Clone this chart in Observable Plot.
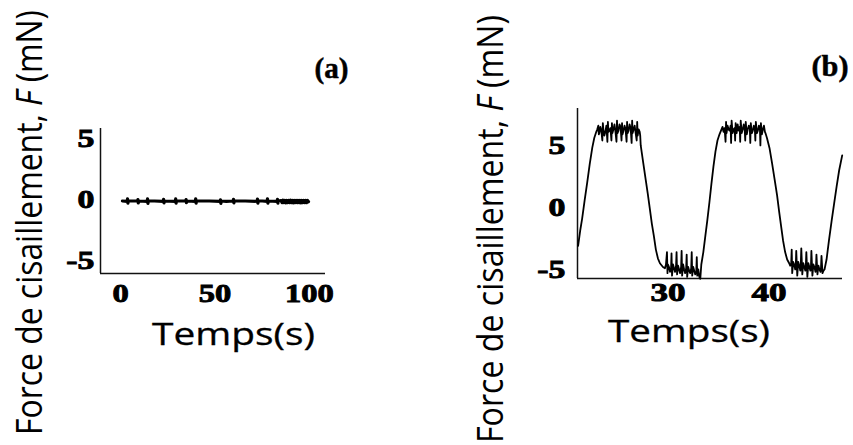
<!DOCTYPE html>
<html>
<head>
<meta charset="utf-8">
<script src="https://cdn.jsdelivr.net/npm/d3@7"></script>
<script src="https://cdn.jsdelivr.net/npm/@observablehq/plot@0.6"></script>
<style>
  html, body { margin: 0; padding: 0; background: #fff; }
  #wrap { position: relative; width: 853px; height: 445px; overflow: hidden; background: #fff; }
  #wrap > .panel { position: absolute; top: 0; }
  #overlay { position: absolute; left: 0; top: 0; pointer-events: none; }
</style>
</head>
<body>
<div id="wrap"></div>
<script>
// ---------- DATA ----------
// Panel (a): near-zero shear force over 100 s
const timeA = [1, 3.5, 3.7, 3.9, 4.1, 9, 9.2, 9.4, 9.6, 14.1, 14.3, 14.5, 14.7, 18, 22.6, 22.8, 23, 23.2,
  29, 29.2, 29.4, 29.6, 34.5, 34.7, 34.9, 35.1, 39.6, 39.8, 40, 40.2, 47, 52.7, 52.9, 53.1, 53.3, 56,
  59.6, 59.8, 60, 60.2, 66, 72.3, 72.5, 72.7, 72.9, 75, 77.6, 77.8, 78, 78.2, 82.9, 83.1, 83.3, 83.5,
  85, 85.5, 86, 86.5, 87, 87.5, 88, 88.5, 89, 89.5, 90, 90.5, 91, 91.5, 92, 92.5, 93, 93.5, 94, 94.5,
  95, 95.5, 96, 96.5, 97, 97.5, 98, 98.5, 99, 99.5];
const forceA = [-0.12, -0.15, 0.05, -0.3, -0.12, -0.12, 0.0, -0.28, -0.12, -0.15, 0.05, -0.32, -0.12, -0.12, -0.15, 0.02, -0.28, -0.12,
  -0.15, 0.05, -0.3, -0.12, -0.12, 0.0, -0.26, -0.12, -0.15, 0.06, -0.3, -0.12, -0.12, -0.15, -0.02, -0.32, -0.12, -0.15,
  -0.12, 0.02, -0.28, -0.12, -0.12, -0.15, 0.04, -0.3, -0.12, -0.12, -0.15, 0.06, -0.3, -0.12, -0.15, 0.02, -0.3, -0.12,
  -0.08, -0.26, -0.06, -0.25, -0.08, -0.27, -0.07, -0.25, -0.08, -0.26, -0.06, -0.26, -0.08, -0.27, -0.07, -0.25, -0.08, -0.26, -0.07, -0.26,
  -0.08, -0.27, -0.07, -0.25, -0.08, -0.26, -0.08, -0.26, -0.08, -0.18];

// Panel (b): oscillating shear force
const timeB = [21.1, 21.3, 21.5, 21.75, 22.0, 22.25, 22.5, 22.7, 22.9, 23.0,
  23.1, 23.15, 23.2, 23.3, 23.4, 23.5, 23.55, 23.6, 23.7, 23.8, 23.9, 24.0, 24.05, 24.1, 24.2, 24.3, 24.4, 24.45, 24.5, 24.6, 24.7, 24.8, 24.9, 24.95,
  25.0, 25.1, 25.2, 25.3, 25.4, 25.45, 25.5, 25.6, 25.7, 25.8, 25.9, 25.95, 26.0, 26.1, 26.2, 26.3, 26.4, 26.45, 26.5, 26.6, 26.7, 26.8, 26.9, 26.95, 27.0, 27.1, 27.2,
  27.25, 27.3, 27.55, 27.8, 28.0, 28.2, 28.4, 28.6, 28.8, 29.0, 29.2, 29.5, 29.7,
  29.8, 29.9, 29.95, 30.0, 30.1, 30.2, 30.3, 30.35, 30.4, 30.5, 30.6, 30.7, 30.8, 30.85, 30.9, 31.0, 31.1, 31.2, 31.3, 31.35, 31.4, 31.5, 31.6, 31.7, 31.8, 31.85, 31.9,
  32.0, 32.1, 32.2, 32.3, 32.35, 32.4, 32.5, 32.6, 32.7, 32.8, 32.85, 32.9, 33.0, 33.1, 33.2,
  33.3, 33.5, 33.7, 33.9, 34.1, 34.3, 34.5, 34.7, 34.9, 35.1, 35.3,
  35.4, 35.5, 35.6, 35.7, 35.75, 35.8, 35.9, 36.0, 36.1, 36.2, 36.25, 36.3, 36.4, 36.5, 36.6, 36.65, 36.7, 36.8, 36.9, 37.0, 37.1, 37.15,
  37.2, 37.3, 37.4, 37.5, 37.6, 37.65, 37.7, 37.8, 37.9, 38.0, 38.1, 38.15, 38.2, 38.3, 38.4, 38.5, 38.6, 38.65, 38.7, 38.8, 38.9, 39.0, 39.1, 39.15, 39.2, 39.3, 39.4, 39.5, 39.6,
  39.65, 39.8, 40.05, 40.3, 40.55, 40.8, 41.0, 41.2, 41.4, 41.6, 41.8, 42.0,
  42.1, 42.2, 42.25, 42.3, 42.4, 42.5, 42.6, 42.65, 42.7, 42.8, 42.9, 43.0, 43.1, 43.15, 43.2, 43.3, 43.4, 43.5, 43.6, 43.65, 43.7, 43.8, 43.9, 44.0, 44.1, 44.15, 44.2,
  44.3, 44.4, 44.5, 44.6, 44.65, 44.7, 44.8, 44.9, 45.0, 45.1, 45.15, 45.2, 45.3, 45.4,
  45.5, 45.7, 45.95, 46.2, 46.45, 46.7, 46.95, 47.25];
const forceB = [-3.1, -1.9, -0.9, 0.6, 2.0, 3.5, 4.8, 5.6, 6.1, 6.3,
  6.6, 5.9, 6.0, 6.5, 6.2, 5.4, 6.8, 6.3, 5.8, 6.1, 6.6, 5.3, 6.9, 6.1, 6.2, 6.4, 5.4, 6.8, 6.0, 6.3, 6.7, 6.1, 5.3, 7.0,
  6.0, 6.2, 6.7, 6.5, 5.4, 6.8, 5.9, 6.2, 6.6, 6.3, 5.3, 6.9, 6.0, 6.2, 6.7, 6.4, 5.2, 7.0, 6.0, 6.3, 6.6, 6.0, 5.4, 6.9, 5.8, 6.3, 6.1,
  5.8, 5.0, 3.6, 2.2, 1.1, -0.1, -1.3, -2.3, -3.4, -4.1, -4.5, -4.8, -4.9,
  -4.6, -3.6, -5.3, -4.6, -4.8, -5.2, -5.0, -3.7, -5.5, -4.6, -4.9, -5.2, -4.7, -3.6, -5.4, -4.7, -5.0, -5.3, -4.8, -3.5, -5.5, -4.6, -5.0, -5.3, -4.9, -3.8, -5.6,
  -4.8, -5.1, -5.3, -4.9, -3.6, -5.5, -4.8, -5.1, -5.4, -5.2, -4.0, -5.5, -5.0, -5.6, -5.75,
  -4.6, -3.6, -2.3, -1.0, 0.4, 1.9, 3.3, 4.5, 5.4, 5.9, 6.3,
  6.5, 6.1, 6.4, 5.3, 6.9, 6.0, 6.6, 6.3, 6.2, 6.6, 5.2, 7.0, 6.0, 6.3, 6.4, 5.4, 6.8, 6.0, 6.7, 6.2, 6.5, 5.3, 7.0,
  6.0, 6.3, 6.7, 6.2, 5.4, 6.9, 5.9, 6.3, 6.6, 6.4, 5.2, 6.8, 6.0, 6.2, 6.6, 6.3, 5.4, 6.9, 6.0, 6.2, 6.6, 6.4, 5.0, 6.8, 5.9, 6.3, 6.6, 6.1, 6.0,
  5.6, 4.8, 3.6, 2.3, 1.0, -0.3, -1.5, -2.7, -3.6, -4.2, -4.5, -4.7,
  -4.5, -3.4, -5.3, -4.4, -4.6, -5.0, -4.8, -3.5, -5.5, -4.4, -4.7, -5.1, -4.6, -3.3, -5.4, -4.5, -4.8, -5.1, -4.7, -3.6, -5.6, -4.5, -4.8, -5.1, -4.9, -3.5, -5.5,
  -4.6, -4.8, -5.2, -4.9, -3.8, -5.4, -4.7, -5.0, -5.2, -4.9, -3.9, -5.3, -5.1, -5.0,
  -4.2, -2.6, -1.1, 0.3, 1.7, 3.0, 4.2, 5.3];

const ticksA_x = [0, 50, 100];
const ticksA_y = [-5, 0, 5];
const ticksB_x = [30, 40];
const ticksB_y = [-5, 0, 5];

const xLabel = "Temps(s)";
const yLabelMain = "Force de cisaillement, ";
const yLabelItalic = "F";
const yLabelUnit = " (mN)";
const panelLabels = ["(a)", "(b)"];

// ---------- BUILD ----------
const dataA = timeA.map((t, i) => ({t, f: forceA[i]}));
const dataB = timeB.map((t, i) => ({t, f: forceB[i]}));

const fmt = d => String(d);  // plain hyphen-minus like the original

function styleTicks(chart, sel, sx) {
  chart.querySelectorAll(sel).forEach(g => {
    g.querySelectorAll("text").forEach(t => {
      t.style.fontFamily = "'Liberation Serif', 'Times New Roman', serif";
      t.style.fontWeight = "bold";
      t.style.fontSize = "26px";
      t.style.fill = "#000";
      t.style.stroke = "#000";
      t.style.strokeWidth = "0.9px";
      t.style.paintOrder = "normal";
      t.setAttribute("transform", (t.getAttribute("transform") || "") + ` scale(${sx},1)`);
    });
  });
}

function makePanel(cfg) {
  const chart = Plot.plot({
    width: cfg.width, height: 445,
    marginLeft: cfg.ml, marginRight: cfg.mr, marginTop: cfg.mt, marginBottom: cfg.mb,
    style: {background: "transparent", color: "#000", overflow: "visible"},
    x: {domain: cfg.xd},
    y: {domain: cfg.yd},
    marks: [
      Plot.ruleX([cfg.xd[0]], {stroke: "#111", strokeWidth: 1.5}),
      Plot.ruleY([cfg.yd[0]], {stroke: "#111", strokeWidth: 1.5}),
      Plot.line(cfg.data, {x: "t", y: "f", stroke: "#000", strokeWidth: cfg.sw, strokeLinejoin: "round"}),
      Plot.axisX(cfg.tx, {tickSize: 0, tickPadding: cfg.xpad, label: null, tickFormat: fmt}),
      Plot.axisY(cfg.ty, {tickSize: 0, tickPadding: cfg.ypad, label: null, tickFormat: fmt})
    ]
  });
  chart.classList.add("panel");
  chart.style.left = cfg.left + "px";
  styleTicks(chart, 'g[aria-label="x-axis tick label"]', cfg.sxX);
  styleTicks(chart, 'g[aria-label="y-axis tick label"]', cfg.sxY);
  return chart;
}

const wrap = document.getElementById("wrap");
wrap.appendChild(makePanel({
  left: 0, width: 430, ml: 100, mr: 105, mt: 128, mb: 172,
  xd: [-10.6, 108.5], yd: [-6.04, 5.8], data: dataA, sw: 3.2,
  tx: ticksA_x, ty: ticksA_y, xpad: 10, ypad: 6, sxX: 1.25, sxY: 1.3
}));
wrap.appendChild(makePanel({
  left: 430, width: 423, ml: 147, mr: 11, mt: 108, mb: 167,
  xd: [21.04, 47.28], yd: [-5.73, 7.98], data: dataB, sw: 1.8,
  tx: ticksB_x, ty: ticksB_y, xpad: 4, ypad: 12, sxX: 1.35, sxY: 1.3
}));

// Overlay labels
const svg = d3.select(wrap).append("svg").attr("id", "overlay").attr("width", 853).attr("height", 445);
const sans = "'Open Sans', 'Noto Sans', sans-serif";

[[233.5, 345, 163], [689, 342, 162]].forEach(([cx, by, len]) => {
  svg.append("text").attr("x", cx).attr("y", by).attr("text-anchor", "middle")
    .attr("font-family", sans).attr("font-size", 31).attr("fill", "#000")
    .attr("stroke", "#000").attr("stroke-width", 0.3)
    .attr("textLength", len).attr("lengthAdjust", "spacingAndGlyphs").text(xLabel);
});

[[42, 222.5, 425], [503, 229, 428]].forEach(([bx, cy, len]) => {
  const t = svg.append("text").attr("transform", `translate(${bx},${cy}) rotate(-90)`)
    .attr("text-anchor", "middle").attr("font-family", sans).attr("font-size", 36).attr("fill", "#000")
    .attr("textLength", len).attr("lengthAdjust", "spacingAndGlyphs");
  t.append("tspan").text(yLabelMain);
  t.append("tspan").attr("font-style", "italic").text(yLabelItalic);
  t.append("tspan").text(yLabelUnit);
});

[[331.5, 78, 34, panelLabels[0]], [830, 76, 37, panelLabels[1]]].forEach(([cx, by, len, s]) => {
  svg.append("text").attr("x", cx).attr("y", by).attr("text-anchor", "middle")
    .attr("font-family", "'Liberation Serif', serif").attr("font-weight", "bold").attr("font-size", 30)
    .attr("fill", "#000").attr("stroke", "#000").attr("stroke-width", 0.5)
    .attr("textLength", len).attr("lengthAdjust", "spacingAndGlyphs").text(s);
});
</script>
</body>
</html>
